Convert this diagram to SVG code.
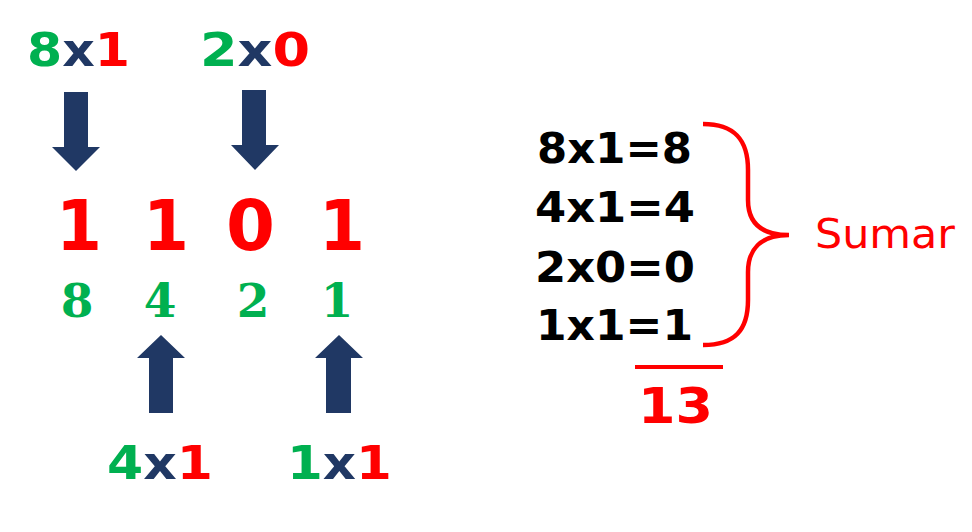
<svg xmlns="http://www.w3.org/2000/svg" width="972" height="532" viewBox="0 0 972 532">
<style>
.h{font-family:"DejaVu Sans",sans-serif;font-weight:bold}
.g{fill:#00B050}.r{fill:#FF0000}.b{fill:#203864}.k{fill:#000}
.s{font-family:"DejaVu Serif",serif;font-weight:bold;font-size:47px;fill:#00B050;text-anchor:middle}
.arr{fill:#203864}
</style>
<rect width="972" height="532" fill="#fff"/>
<g id="top-labels">
<text class="h" x="27" y="66" font-size="46" textLength="103" lengthAdjust="spacingAndGlyphs"><tspan class="g">8</tspan><tspan class="b">x</tspan><tspan class="r">1</tspan></text>
<text class="h" x="200" y="66" font-size="46" textLength="110" lengthAdjust="spacingAndGlyphs"><tspan class="g">2</tspan><tspan class="b">x</tspan><tspan class="r">0</tspan></text>
</g>
<g id="connectors">
<polygon class="arr" points="64,92 88,92 88,147 100,147 76,171 52,147 64,147"/>
<polygon class="arr" points="242,90 266,90 266,145 279,145 255,170 231,145 242,145"/>
<polygon class="arr" points="149,413 173,413 173,358 185,358 161,335 137,358 149,358"/>
<polygon class="arr" points="326,413 351,413 351,358 363,358 339,335 315,358 326,358"/>
</g>
<g id="binary" class="h r" font-size="70">
<text x="56" y="250" textLength="46" lengthAdjust="spacingAndGlyphs">1</text>
<text x="143" y="250" textLength="46" lengthAdjust="spacingAndGlyphs">1</text>
<text x="226" y="250" textLength="49" lengthAdjust="spacingAndGlyphs">0</text>
<text x="319" y="250" textLength="46" lengthAdjust="spacingAndGlyphs">1</text>
</g>
<g id="weights">
<text class="s" x="77" y="317">8</text>
<text class="s" x="160" y="317">4</text>
<text class="s" x="253" y="317">2</text>
<text class="s" x="337" y="317">1</text>
</g>
<g id="bottom-labels">
<text class="h" x="107" y="479" font-size="46" textLength="106" lengthAdjust="spacingAndGlyphs"><tspan class="g">4</tspan><tspan class="b">x</tspan><tspan class="r">1</tspan></text>
<text class="h" x="287" y="479" font-size="46" textLength="105" lengthAdjust="spacingAndGlyphs"><tspan class="g">1</tspan><tspan class="b">x</tspan><tspan class="r">1</tspan></text>
</g>
<g id="sums" class="h k" font-size="42">
<text x="537" y="163" textLength="155" lengthAdjust="spacingAndGlyphs">8x1=8</text>
<text x="535" y="222" textLength="160" lengthAdjust="spacingAndGlyphs">4x1=4</text>
<text x="535" y="282" textLength="160" lengthAdjust="spacingAndGlyphs">2x0=0</text>
<text x="536" y="340" textLength="157" lengthAdjust="spacingAndGlyphs">1x1=1</text>
</g>
<g id="brace">
<path d="M703,124 C735,124 748,140 748,170 L748,200 C748,222 760,235 789,235 C760,235 748,250 748,272 L748,300 C748,330 735,345 703,345" fill="none" stroke="#FF0000" stroke-width="4.5"/>
</g>
<g id="sumar">
<text x="815" y="248" font-family="DejaVu Sans,sans-serif" font-size="40" fill="#FF0000" textLength="140" lengthAdjust="spacingAndGlyphs">Sumar</text>
</g>
<g id="total">
<line x1="635" y1="367" x2="723" y2="367" stroke="#FF0000" stroke-width="4"/>
<text class="h r" x="638" y="423" font-size="50" textLength="75" lengthAdjust="spacingAndGlyphs">13</text>
</g>
</svg>
